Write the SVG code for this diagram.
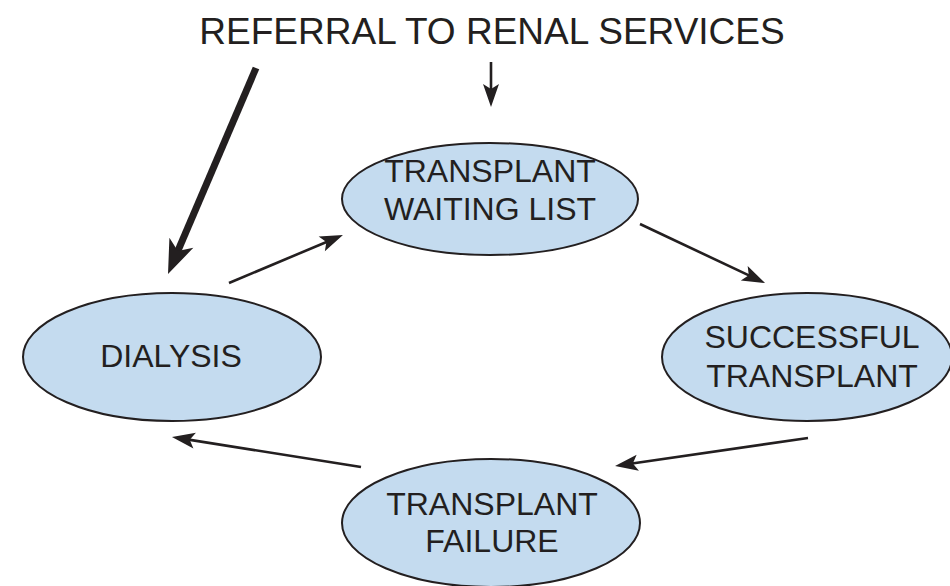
<svg xmlns="http://www.w3.org/2000/svg" width="950" height="586" viewBox="0 0 950 586">
<style>
.node ellipse{fill:#c4dbef;stroke:#231f20;stroke-width:2}
text{font-family:"Liberation Sans",Arial,sans-serif;fill:#231f20;text-anchor:middle}
.lbl{font-size:32px}
.title{font-size:37px}
.conn line{stroke:#231f20;stroke-width:2.6;fill:none}
.conn line.thick{stroke-width:7}
</style>
<defs>
<marker id="ah" markerUnits="userSpaceOnUse" markerWidth="40" markerHeight="40" refX="0" refY="0" orient="auto" overflow="visible">
<path d="M12,0 L-11,-8 L-6,0 L-11,8 Z" fill="#231f20"/>
</marker>
<marker id="ahBig" markerUnits="userSpaceOnUse" markerWidth="60" markerHeight="60" refX="0" refY="0" orient="auto" overflow="visible">
<path d="M16,0 L-18,-13 L-9,0 L-18,13 Z" fill="#231f20"/>
</marker>
</defs>
<rect width="950" height="586" fill="#ffffff"/>
<text class="title" x="492" y="44">REFERRAL TO RENAL SERVICES</text>
<g id="n-waiting" class="node">
<ellipse cx="490" cy="199" rx="148" ry="56"/>
<text class="lbl" x="490" y="182">TRANSPLANT</text>
<text class="lbl" x="490" y="220">WAITING LIST</text>
</g>
<g id="n-dialysis" class="node">
<ellipse cx="172" cy="357" rx="149" ry="64"/>
<text class="lbl" x="171" y="367">DIALYSIS</text>
</g>
<g id="n-successful" class="node">
<ellipse cx="807" cy="357" rx="145" ry="64"/>
<text class="lbl" x="812" y="348">SUCCESSFUL</text>
<text class="lbl" x="812" y="387">TRANSPLANT</text>
</g>
<g id="n-failure" class="node">
<ellipse cx="491" cy="523" rx="149" ry="64"/>
<text class="lbl" x="492" y="515">TRANSPLANT</text>
<text class="lbl" x="492" y="552">FAILURE</text>
</g>
<g id="connectors" class="conn">
<line class="thick" x1="256" y1="68" x2="174.3" y2="259.3" marker-end="url(#ahBig)"/>
<line x1="491" y1="62" x2="491" y2="95" marker-end="url(#ah)"/>
<line x1="229" y1="283" x2="331.9" y2="239.7" marker-end="url(#ah)"/>
<line x1="640" y1="224" x2="754.2" y2="277.9" marker-end="url(#ah)"/>
<line x1="808" y1="438" x2="626.9" y2="464.3" marker-end="url(#ah)"/>
<line x1="361" y1="467" x2="183.8" y2="438.9" marker-end="url(#ah)"/>
</g>
</svg>
